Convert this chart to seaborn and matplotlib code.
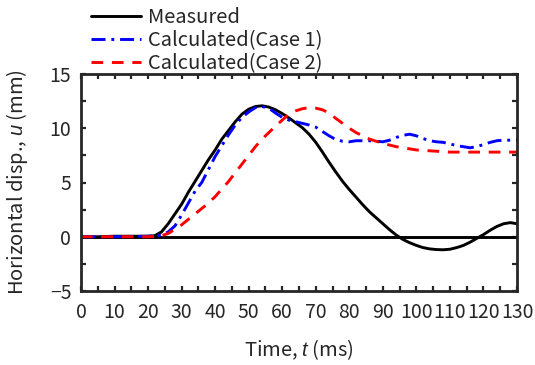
import numpy as np
import pandas as pd
import matplotlib
matplotlib.use("Agg")
import matplotlib.pyplot as plt
from matplotlib.ticker import MultipleLocator
import seaborn as sns

# values
t_meas = [0, 5, 10, 15, 20, 22, 24, 26, 28, 30, 32, 34, 36, 38, 40, 42, 44, 46, 48, 50,
          52, 54, 56, 58, 60, 62, 64, 66, 68, 70, 72, 74, 76, 78, 80, 82, 84, 86, 88, 90,
          92, 94, 96, 98, 100, 102, 104, 106, 108, 110, 112, 114, 116, 118, 120, 122, 124,
          126, 128, 130]
u_meas = [0, 0, 0.05, 0.05, 0.05, 0.1, 0.45, 1.2, 2.1, 3.0, 4.1, 5.1, 6.1, 7.1, 8.0, 9.0,
          9.8, 10.6, 11.3, 11.75, 12.0, 12.07, 11.95, 11.7, 11.35, 10.95, 10.5, 10.05,
          9.45, 8.7, 7.8, 6.85, 5.95, 5.1, 4.35, 3.65, 2.95, 2.3, 1.75, 1.2, 0.65, 0.15,
          -0.25, -0.55, -0.8, -1.0, -1.12, -1.18, -1.2, -1.15, -1.0, -0.8, -0.5, -0.15,
          0.2, 0.6, 0.95, 1.2, 1.3, 1.2]

t_case1 = [0, 10, 20, 22, 24, 26, 28, 30, 32, 34, 36, 38, 40, 42, 44, 46, 48, 50, 52, 54,
           56, 58, 60, 62, 64, 66, 68, 70, 72, 74, 76, 78, 80, 82, 84, 86, 88, 90, 92, 94,
           96, 98, 100, 102, 104, 106, 108, 110, 112, 114, 116, 118, 120, 122, 124, 126,
           128, 130]
u_case1 = [0, 0, 0.05, 0.08, 0.15, 0.45, 1.0, 2.0, 3.1, 4.2, 5.0, 6.2, 7.4, 8.4, 9.4,
           10.3, 11.0, 11.5, 11.9, 12.0, 11.85, 11.4, 11.0, 10.75, 10.6, 10.45, 10.3,
           10.1, 9.7, 9.3, 8.95, 8.8, 8.75, 8.85, 8.85, 8.85, 8.8, 8.75, 8.9, 9.15, 9.35,
           9.45, 9.3, 9.05, 8.85, 8.75, 8.7, 8.55, 8.4, 8.3, 8.2, 8.3, 8.5, 8.7, 8.85, 8.9,
           8.9, 8.9]

t_case2 = [0, 10, 20, 22, 24, 26, 28, 30, 32, 34, 36, 38, 40, 42, 44, 46, 48, 50, 52, 54,
           56, 58, 60, 62, 64, 66, 68, 70, 72, 74, 76, 78, 80, 82, 84, 86, 88, 90, 92, 94,
           96, 98, 100, 105, 110, 115, 120, 125, 130]
u_case2 = [0, 0, 0.0, 0.03, 0.1, 0.3, 0.7, 1.1, 1.6, 2.1, 2.6, 3.1, 3.7, 4.4, 5.1, 5.9,
           6.7, 7.5, 8.3, 9.0, 9.6, 10.2, 10.75, 11.3, 11.6, 11.8, 11.9, 11.85, 11.7, 11.4,
           10.9, 10.45, 10.0, 9.6, 9.3, 9.0, 8.8, 8.6, 8.45, 8.3, 8.2, 8.1, 8.0, 7.9, 7.8,
           7.8, 7.8, 7.8, 7.8]

labels = ["Measured", "Calculated(Case 1)", "Calculated(Case 2)"]

sns.set_style("ticks")
plt.rcParams["font.family"] = ["Noto Sans CJK JP", "DejaVu Sans"]
plt.rcParams["font.size"] = 14.5
plt.rcParams["mathtext.fontset"] = "custom"
plt.rcParams["mathtext.it"] = "Liberation Sans:italic"
plt.rcParams["mathtext.rm"] = "Liberation Sans"

fig = plt.figure(figsize=(5.35, 3.65), dpi=100)
ax = fig.add_axes([0.1514, 0.2027, 0.815, 0.5946])

lw = 2.1
sns.lineplot(x=t_meas, y=u_meas, ax=ax, color="black", lw=lw, label=labels[0])
sns.lineplot(x=t_case1, y=u_case1, ax=ax, color="blue", lw=lw,
             linestyle=(0, (4.8, 2.0, 1, 2.0)), label=labels[1])
sns.lineplot(x=t_case2, y=u_case2, ax=ax, color="red", lw=lw,
             linestyle=(0, (4.0, 3.0)), label=labels[2])
ax.axhline(0, color="black", lw=lw, zorder=1)

ax.set_xlim(0, 130)
ax.set_ylim(-5, 15)
ax.xaxis.set_major_locator(MultipleLocator(10))
ax.xaxis.set_minor_locator(MultipleLocator(5))
ax.yaxis.set_major_locator(MultipleLocator(5))
ax.yaxis.set_minor_locator(MultipleLocator(2.5))
ax.tick_params(which="both", direction="in", top=True, right=True,
               length=3.6, width=1.6, labelsize=14)
ax.tick_params(axis="x", pad=8)
ax.tick_params(axis="y", pad=7)
for s in ax.spines.values():
    s.set_linewidth(2.0)

ax.set_xlabel("Time, $t$ (ms)", fontsize=14.5, labelpad=10)
ax.set_ylabel("Horizontal disp., $u$ (mm)", fontsize=14.5)
ax.yaxis.set_label_coords(-0.117, 0.5)

leg = ax.legend(loc="lower left", bbox_to_anchor=(0.005, 0.964), frameon=False,
                handlelength=2.45, handletextpad=0.35, labelspacing=0.1,
                borderaxespad=0, fontsize=14.5)

fig.savefig("out.png", dpi=100)
